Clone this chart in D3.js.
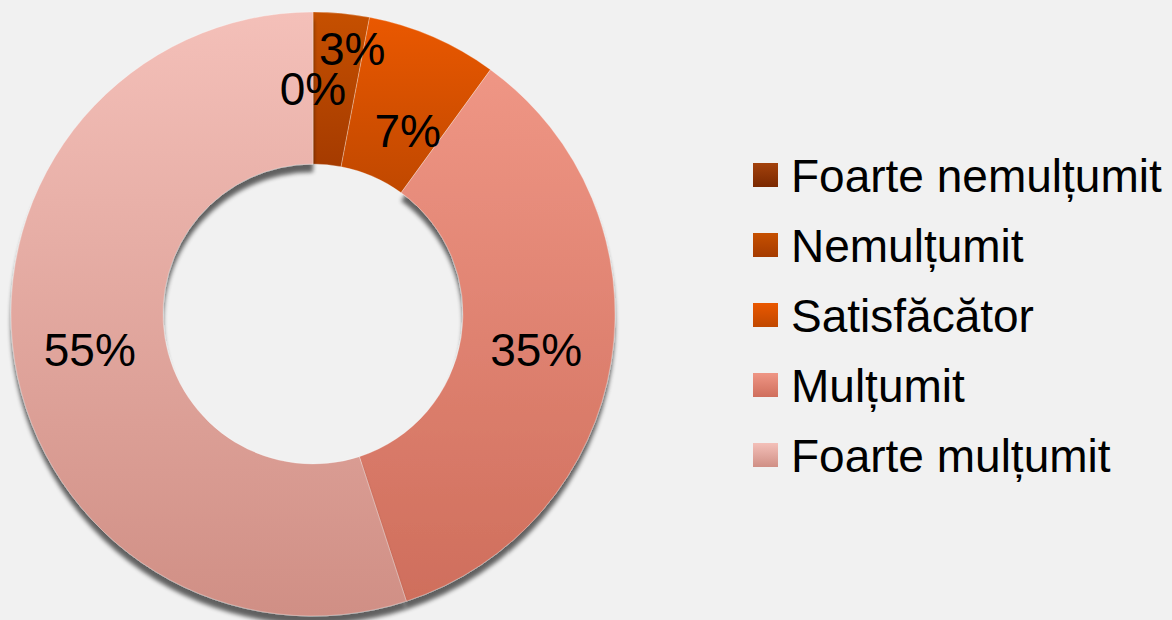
<!DOCTYPE html>
<html>
<head>
<meta charset="utf-8">
<script src="https://cdn.jsdelivr.net/npm/d3@7"></script>
<style>
  body { margin: 0; background: #f1f1f1; }
  svg { display: block; }
</style>
</head>
<body>
<div id="chart"></div>
<script>
// data
var categories = ["Foarte nemulțumit", "Nemulțumit", "Satisfăcător", "Mulțumit", "Foarte mulțumit"];
var values = [0, 3, 7, 35, 55];
var labels = ["0%", "3%", "7%", "35%", "55%"];

// colours (top, bottom of each gradient)
var colorTop = ["#a3420c", "#c65000", "#ea5800", "#ef9685", "#f4c0b9"];
var colorBottom = ["#7a2800", "#a53b00", "#c04800", "#cf6e5c", "#d08f85"];

var svgWidth = 1172;
var svgHeight = 620;

var cx = 313, cy = 314;
var outerR = 302, innerR = 150;

var svg = d3.select("#chart")
  .append("svg")
  .attr("width", svgWidth)
  .attr("height", svgHeight);

var defs = svg.append("defs");

categories.forEach(function(c, i) {
  var g = defs.append("linearGradient")
    .attr("id", "grad" + i)
    .attr("x1", 0).attr("y1", 0).attr("x2", 0).attr("y2", 1);
  g.append("stop").attr("offset", "0%").attr("stop-color", colorTop[i]);
  g.append("stop").attr("offset", "100%").attr("stop-color", colorBottom[i]);
});

// shadow below the big slices
var shadow = defs.append("filter")
  .attr("id", "shadow")
  .attr("filterUnits", "userSpaceOnUse")
  .attr("x", -330).attr("y", -330)
  .attr("width", 660).attr("height", 660);
shadow.append("feGaussianBlur")
  .attr("in", "SourceAlpha")
  .attr("stdDeviation", 2)
  .attr("result", "blur");
shadow.append("feOffset")
  .attr("in", "blur")
  .attr("dx", 0).attr("dy", 8)
  .attr("result", "off");
shadow.append("feComponentTransfer")
  .attr("in", "off")
  .attr("result", "soft")
  .append("feFuncA").attr("type", "linear").attr("slope", 0.6);
var merge = shadow.append("feMerge");
merge.append("feMergeNode").attr("in", "soft");
merge.append("feMergeNode").attr("in", "SourceGraphic");

var pie = d3.pie().sort(null).value(d => d);
var arcs = pie(values);

var arc = d3.arc().innerRadius(innerR).outerRadius(outerR);
var labelArc = d3.arc().innerRadius(226).outerRadius(226);

var chartGroup = svg.append("g")
  .attr("transform", `translate(${cx}, ${cy})`);

chartGroup.selectAll("path")
  .data(arcs)
  .enter()
  .append("path")
  .attr("d", arc)
  .attr("fill", (d, i) => `url(#grad${i})`)
  .attr("stroke", "rgba(255,255,255,0.35)")
  .attr("stroke-width", 0.8)
  .attr("filter", (d, i) => i >= 3 ? "url(#shadow)" : null);

// label nudges where the labels were moved apart to avoid overlap
var nudge = [[0, 0], [18, -41], [5, 24], [0, 0], [0, 0]];

chartGroup.selectAll("text.pct")
  .data(arcs)
  .enter()
  .append("text")
  .attr("class", "pct")
  .attr("x", (d, i) => labelArc.centroid(d)[0] + nudge[i][0])
  .attr("y", (d, i) => labelArc.centroid(d)[1] + nudge[i][1])
  .attr("dy", "0.36em")
  .attr("text-anchor", "middle")
  .style("font-family", "'Liberation Sans', Arial, sans-serif")
  .style("font-size", "46px")
  .attr("fill", "#000")
  .text((d, i) => labels[i]);

// legend
var legend = svg.append("g")
  .attr("transform", "translate(753, 163)");

var rowY = d3.scalePoint()
  .domain(categories)
  .range([0, 280]);

var rows = legend.selectAll("g")
  .data(categories)
  .enter()
  .append("g")
  .attr("transform", d => `translate(0, ${rowY(d)})`);

rows.append("rect")
  .attr("width", 25)
  .attr("height", 24)
  .attr("fill", (d, i) => `url(#grad${i})`);

rows.append("text")
  .attr("x", 38)
  .attr("y", 12)
  .attr("dy", "0.36em")
  .style("font-family", "'Liberation Sans', Arial, sans-serif")
  .style("font-size", "46px")
  .attr("fill", "#000")
  .text(d => d);
</script>
</body>
</html>
